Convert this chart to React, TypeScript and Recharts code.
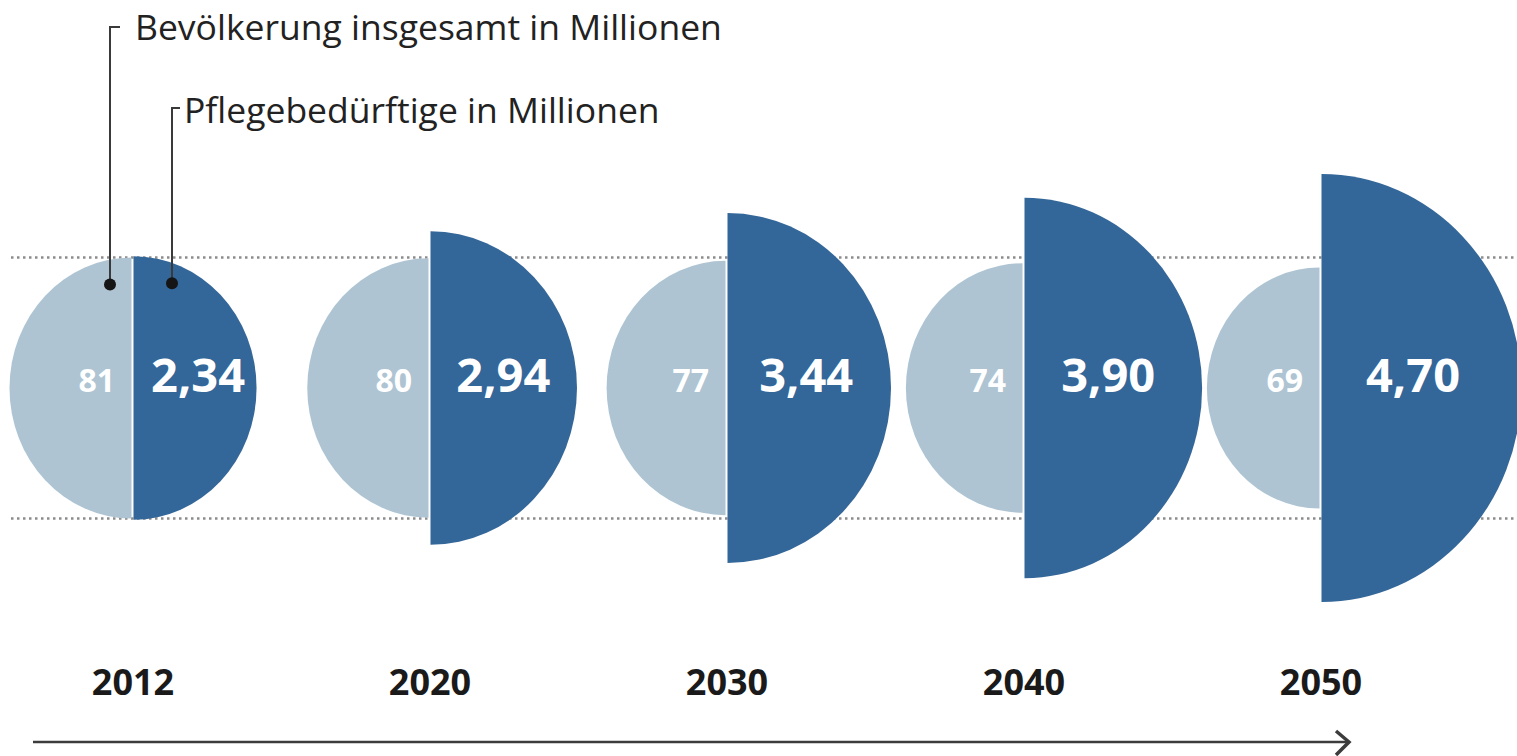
import React from 'react';
import { ScatterChart, Scatter, XAxis, YAxis, ZAxis, Customized } from 'recharts';

const years = ['2012', '2020', '2030', '2040', '2050'];
const population = [81, 80, 77, 74, 69];
const careNeeded = [2.34, 2.94, 3.44, 3.9, 4.7];

const data = years.map((year, i) => ({
  year,
  step: i,
  level: 0,
  population: population[i],
  care: careNeeded[i],
}));

const W = 1517;
const H = 756;
const FONT = '"Open Sans", "Noto Sans", sans-serif';
const LIGHT = '#aec4d3';
const DARK = '#336699';
// source graphic is slightly taller than wide
const STRETCH = 1.07;

const fmt = (v: number) => v.toFixed(2).replace('.', ',');

function Pointer({ x, topY, dotY, hook, textX, textY, label }: any) {
  return (
    <g>
      <path d={`M${x + hook},${topY} H${x} V${dotY}`} fill="none" stroke="#3a3a3a" strokeWidth={2} />
      <circle cx={x} cy={dotY} r={6} fill="#151515" />
      <text x={textX} y={textY} fontSize={35.5} fill="#222" fontFamily={FONT}>
        {label}
      </text>
    </g>
  );
}

function PopulationHalf(props: any) {
  const { cx, cy, payload } = props;
  const r = Math.sqrt(Math.max(props.size || 0, 0) / Math.PI);
  const ry = r * STRETCH;
  const x = cx - 1.5;
  const first = payload.year === years[0];
  return (
    <g>
      {first && (
        <g stroke="#8c8c8c" strokeWidth={2.5} strokeDasharray="2.5 3.5">
          <line x1={cx - r} x2={W} y1={cy - ry} y2={cy - ry} />
          <line x1={cx - r} x2={W} y1={cy + ry} y2={cy + ry} />
        </g>
      )}
      <path d={`M${x},${cy - ry} A${r},${ry} 0 0 0 ${x},${cy + ry} Z`} fill={LIGHT} />
      <text x={cx - 18} y={cy + 4} textAnchor="end" fill="#fff" fontSize={32} fontWeight={700} fontFamily={FONT}>
        {payload.population}
      </text>
      {first && (
        <Pointer x={cx - 23} hook={10} topY={27} dotY={cy - ry + 27} textX={cx + 2} textY={40}
          label="Bevölkerung insgesamt in Millionen" />
      )}
    </g>
  );
}

function CareHalf(props: any) {
  const { cx, cy, payload } = props;
  const r = Math.sqrt(Math.max(props.size || 0, 0) / Math.PI);
  const ry = r * STRETCH;
  const x = cx + 0.5;
  const first = payload.year === years[0];
  return (
    <g>
      <path d={`M${x},${cy - ry} A${r},${ry} 0 0 1 ${x},${cy + ry} Z`} fill={DARK} />
      <text x={cx + 0.35 * r + 22} y={cy + 4} textAnchor="middle" fill="#fff" fontSize={47} fontWeight={700} fontFamily={FONT}>
        {fmt(payload.care)}
      </text>
      {first && (
        <Pointer x={cx + 39} hook={8} topY={108} dotY={cy - ry + 27} textX={cx + 51} textY={123}
          label="Pflegebedürftige in Millionen" />
      )}
    </g>
  );
}

const TimeArrow = () => (
  <g stroke="#3c3c3c" fill="none">
    <line x1={33} x2={1349} y1={742} y2={742} strokeWidth={2.5} />
    <path d="M1336,731 L1349,742 L1336,755" strokeWidth={3.5} />
  </g>
);

export default function App() {
  return (
    <div style={{ position: 'absolute', left: 0, top: 0, background: '#fff' }}>
      <ScatterChart width={W} height={H} margin={{ top: 116, right: 196, bottom: 0, left: 133 }}>
        <XAxis
          dataKey="step"
          type="number"
          domain={[0, years.length - 1]}
          ticks={years.map((_, i) => i)}
          tickFormatter={(i: number) => years[i]}
          axisLine={false}
          tickLine={false}
          tickMargin={3}
          height={96}
          interval={0}
          tick={{ fill: '#1a1a1a', fontSize: 36, fontWeight: 700, fontFamily: FONT }}
        />
        <YAxis dataKey="level" type="number" domain={[-1, 1]} hide />
        <ZAxis zAxisId="pop" dataKey="population" type="number" domain={[0, 81]} range={[0, Math.PI * 122 * 122]} />
        <ZAxis zAxisId="care" dataKey="care" type="number" domain={[0.9, 4.7]} range={[0, Math.PI * 200 * 200]} />
        <Scatter data={data} zAxisId="pop" shape={PopulationHalf} isAnimationActive={false} />
        <Scatter data={data} zAxisId="care" shape={CareHalf} isAnimationActive={false} />
        <Customized component={TimeArrow} />
      </ScatterChart>
    </div>
  );
}
